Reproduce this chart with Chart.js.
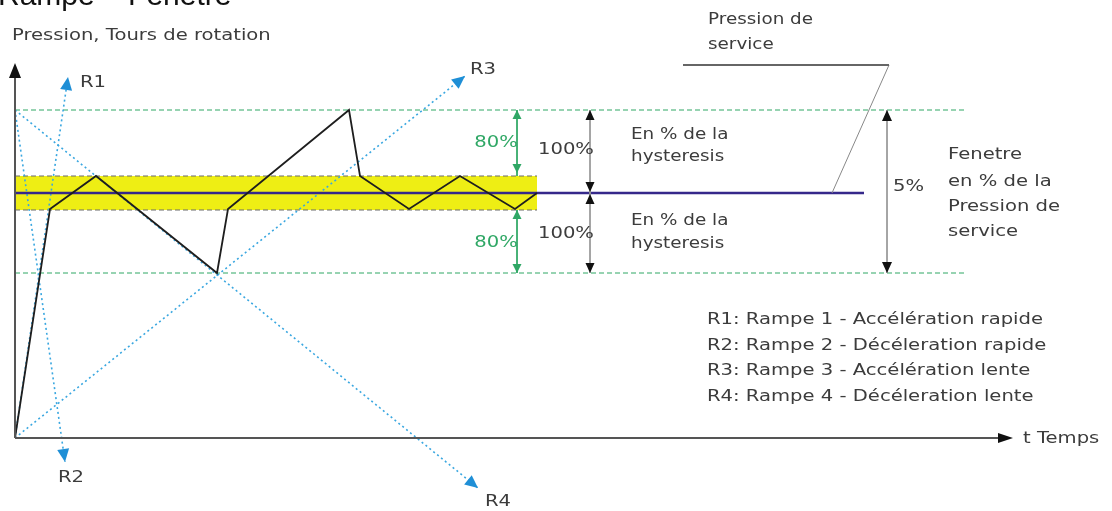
<!DOCTYPE html>
<html lang="fr">
   <head>
      <meta charset="UTF-8" />
      <script src="https://cdn.jsdelivr.net/npm/chart.js@4.4.1/dist/chart.umd.min.js"></script>
      <title>Rampe - Fenetre</title>
      <style>
         body { margin: 0; background: #fff; }
         .chart-box { position: relative; width: 1112px; height: 511px; }
      </style>
   </head>
   <body>
      <div class="chart-box"><canvas id="chart"></canvas></div>
      <script>
         // time axis / pressure axis values (origin = where the axes cross)
         const curveT = [0, 35, 81, 202, 213, 334, 345, 394, 445, 500, 522];
         const curveP = [0, 229, 262, 165, 229, 328, 262, 229, 262, 229, 245];

         const servicePressure = 245;
         const bandTop = 262;
         const bandBottom = 228;
         const hystTop = 328;
         const hystBottom = 165;
         const bandEndT = 522;
         const serviceEndT = 849;
         const hystEndT = 951;
         const axisEndT = 998;
         const axisEndP = 375;

         const rampNames = ['R1', 'R2', 'R3', 'R4'];
         const rampStartT = [0, 0, 0, 0];
         const rampStartP = [0, 328, 0, 328];
         const rampEndT = [53, 50, 450, 463];
         const rampEndP = [361, -24, 362, -50];

         const legendLines = [
            'R1: Rampe 1 - Accélération rapide',
            'R2: Rampe 2 - Décéleration rapide',
            'R3: Rampe 3 - Accélération lente',
            'R4: Rampe 4 - Décéleration lente'
         ];

         const grey = '#3c3c3c';
         const green = '#2fa765';
         const blue = '#3aa7e0';

         function seg(t0, p0, t1, p1) {
            return [{ x: t0, y: p0 }, { x: t1, y: p1 }];
         }

         const datasets = [];
         // yellow window band
         datasets.push({ data: seg(0, bandTop, bandEndT, bandTop), borderWidth: 0, backgroundColor: '#eeee14', fill: '+1', order: 20 });
         datasets.push({ data: seg(0, bandBottom, bandEndT, bandBottom), borderWidth: 0, fill: false, order: 21 });
         // grey dashes on band edges
         [bandTop, bandBottom].forEach(p => {
            datasets.push({ data: seg(0, p, bandEndT, p), borderColor: '#6a6a6a', borderWidth: 1, borderDash: [5, 3], order: 15 });
         });
         // green hysteresis limits
         [hystTop, hystBottom].forEach(p => {
            datasets.push({ data: seg(0, p, hystEndT, p), borderColor: green, borderWidth: 1, borderDash: [5, 3], order: 14 });
         });
         // ramps
         rampNames.forEach((r, i) => {
            datasets.push({ data: seg(rampStartT[i], rampStartP[i], rampEndT[i], rampEndP[i]), borderColor: blue, borderWidth: 1.6, borderDash: [2, 3], order: 12 });
         });
         // service pressure
         datasets.push({ data: seg(0, servicePressure, serviceEndT, servicePressure), borderColor: '#35288a', borderWidth: 2.5, order: 10 });
         // pressure curve
         datasets.push({ data: curveT.map((t, i) => ({ x: t, y: curveP[i] })), borderColor: '#1e1e1e', borderWidth: 1.8, order: 8 });
         // axes
         datasets.push({ data: seg(0, 0, 0, axisEndP - 8), borderColor: '#555', borderWidth: 2, order: 6 });
         datasets.push({ data: seg(0, 0, axisEndT - 8, 0), borderColor: '#555', borderWidth: 2, order: 6 });
         // dimension lines
         datasets.push({ data: seg(502, hystTop, 502, bandTop), borderColor: green, borderWidth: 1, order: 5 });
         datasets.push({ data: seg(502, bandBottom, 502, hystBottom), borderColor: green, borderWidth: 1, order: 5 });
         datasets.push({ data: seg(575, hystTop, 575, hystBottom), borderColor: '#999', borderWidth: 1, order: 5 });
         datasets.push({ data: seg(872, hystTop, 872, hystBottom), borderColor: '#999', borderWidth: 1, order: 5 });
         // leader for "Pression de service"
         datasets.push({ data: seg(668, 373, 874, 373), borderColor: '#666', borderWidth: 2, order: 5 });
         datasets.push({ data: seg(874, 373, 817, servicePressure), borderColor: '#888', borderWidth: 1, order: 5 });

         datasets.forEach(d => {
            d.showLine = true;
            d.pointRadius = 0;
            d.clip = false;
            if (d.borderColor === undefined) d.borderColor = 'rgba(0,0,0,0)';
         });

         let stretch = 1;

         const annotations = {
            id: 'annotations',
            afterDatasetsDraw(chart) {
               const ctx = chart.ctx;
               const xs = chart.scales.x, ys = chart.scales.y;
               const X = v => xs.getPixelForValue(v);
               const Y = v => ys.getPixelForValue(v);

               function head(t1, p1, t0, p0, color, len, hw) {
                  const x1 = X(t1), y1 = Y(p1), x0 = X(t0), y0 = Y(p0);
                  const a = Math.atan2(y1 - y0, x1 - x0);
                  ctx.save();
                  ctx.translate(x1, y1);
                  ctx.rotate(a);
                  ctx.beginPath();
                  ctx.moveTo(0, 0);
                  ctx.lineTo(-len, -hw);
                  ctx.lineTo(-len, hw);
                  ctx.closePath();
                  ctx.fillStyle = color;
                  ctx.fill();
                  ctx.restore();
               }

               function text(s, t, p, color, size, align, st) {
                  ctx.save();
                  ctx.font = size + 'px "DejaVu Sans"';
                  ctx.fillStyle = color;
                  ctx.textBaseline = 'middle';
                  let x = X(t);
                  const w = ctx.measureText(s).width * st;
                  if (align === 'center') x -= w / 2;
                  ctx.translate(x, Y(p));
                  ctx.scale(st, 1);
                  ctx.fillText(s, 0, 0);
                  ctx.restore();
               }

               ctx.save();
               ctx.font = '16px "DejaVu Sans"';
               stretch = 336 / ctx.measureText(legendLines[0]).width;
               ctx.restore();

               // axes heads
               head(0, axisEndP, 0, 0, '#111', 15, 6);
               head(axisEndT, 0, 0, 0, '#111', 15, 5);
               // ramp heads + labels
               rampNames.forEach((r, i) => {
                  head(rampEndT[i], rampEndP[i], rampStartT[i], rampStartP[i], '#1f8fd6', 13, 6);
               });
               text('R1', 65, 355, grey, 16, 'left', stretch);
               text('R2', 43, -40, grey, 16, 'left', stretch);
               text('R3', 455, 368, grey, 16, 'left', stretch);
               text('R4', 470, -64, grey, 16, 'left', stretch);

               // green 80% arrows
               head(502, hystTop, 502, bandTop, green, 9, 4.5);
               head(502, bandTop + 3, 502, hystTop, green, 9, 4.5);
               head(502, bandBottom, 502, hystBottom, green, 9, 4.5);
               head(502, hystBottom, 502, bandBottom, green, 9, 4.5);
               text('80%', 481, 295, green, 16, 'center', stretch);
               text('80%', 481, 195, green, 16, 'center', stretch);

               // 100% arrows
               head(575, hystTop, 575, servicePressure, '#111', 10, 4.5);
               head(575, servicePressure + 1, 575, hystTop, '#111', 10, 4.5);
               head(575, servicePressure - 1, 575, hystBottom, '#111', 10, 4.5);
               head(575, hystBottom, 575, servicePressure, '#111', 10, 4.5);
               text('100%', 523, 288, grey, 16, 'left', stretch);
               text('100%', 523, 204, grey, 16, 'left', stretch);
               text('En % de la', 616, 303, grey, 15, 'left', stretch);
               text('hysteresis', 616, 281, grey, 15, 'left', stretch);
               text('En % de la', 616, 217, grey, 15, 'left', stretch);
               text('hysteresis', 616, 194, grey, 15, 'left', stretch);

               // 5% arrow
               head(872, hystTop, 872, hystBottom, '#111', 11, 5);
               head(872, hystBottom, 872, hystTop, '#111', 11, 5);
               text('5%', 878, 251, grey, 16, 'left', stretch);
               text('Fenetre', 933, 283, grey, 16, 'left', stretch);
               text('en % de la', 933, 256, grey, 16, 'left', stretch);
               text('Pression de', 933, 231, grey, 16, 'left', stretch);
               text('service', 933, 206, grey, 16, 'left', stretch);

               text('Pression de', 693, 418, grey, 15, 'left', stretch);
               text('service', 693, 393, grey, 15, 'left', stretch);

               legendLines.forEach((s, i) => {
                  text(s, 692, 118 - i * 25.5, grey, 16, 'left', stretch);
               });

               text('t Temps', 1008, -1, grey, 16, 'left', stretch);
               text('Pression, Tours de rotation', -3, 402, grey, 16, 'left', stretch);

               // page title, cut by the top edge
               ctx.save();
               ctx.font = '30px "Liberation Sans"';
               ctx.fillStyle = '#111';
               ctx.textBaseline = 'alphabetic';
               ctx.fillText('Rampe – Fenetre', -2, 5);
               ctx.restore();
            }
         };

         const ctx = document.getElementById('chart').getContext('2d');
         const chart = new Chart(ctx, {
            type: 'scatter',
            data: { datasets: datasets },
            options: {
               responsive: true,
               maintainAspectRatio: false,
               animation: false,
               events: [],
               layout: { padding: 0 },
               plugins: {
                  legend: { display: false },
                  tooltip: { enabled: false }
               },
               scales: {
                  x: { type: 'linear', display: false, min: -15, max: 1097 },
                  y: { type: 'linear', display: false, min: -73, max: 438 }
               }
            },
            plugins: [annotations]
         });
      </script>
   </body>
</html>
